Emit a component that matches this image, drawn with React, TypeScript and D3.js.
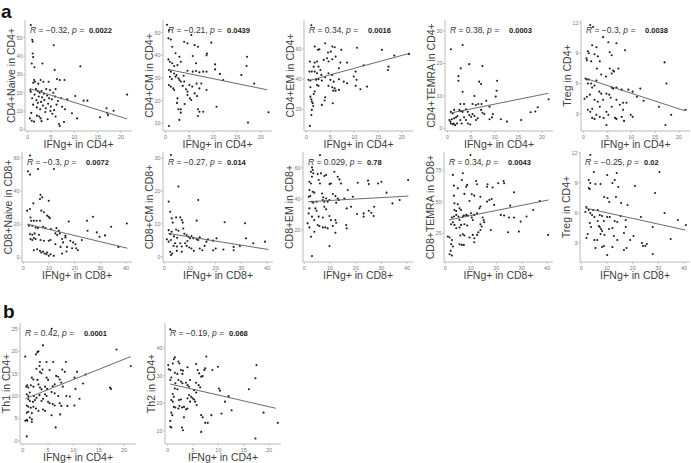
import React from "react";
import * as d3 from "d3";

// ---- data ----
const yLabels = [
  "CD4+Naive in CD4+", "CD4+CM in CD4+", "CD4+EM in CD4+", "CD4+TEMRA in CD4+", "Treg in CD4+",
  "CD8+Naive in CD8+", "CD8+CM in CD8+", "CD8+EM in CD8+", "CD8+TEMRA in CD8+", "Treg in CD4+",
  "Th1 in CD4+", "Th2 in CD4+",
];
const xLabels = ["IFNg+ in CD4+", "IFNg+ in CD8+"];
const rValues = ["\u22120.32", "\u22120.21", "0.34", "0.38", "\u22120.3", "\u22120.3", "\u22120.27", "0.029", "0.34", "\u22120.25", "0.42", "\u22120.19"];
const pValues = ["0.0022", "0.0439", "0.0016", "0.0003", "0.0038", "0.0072", "0.014", "0.78", "0.0043", "0.02", "0.0001", "0.068"];

const cd4Ticks = [0, 5, 10, 15, 20];
const cd8Ticks = [0, 10, 20, 30, 40];
const yTickSets = [
  [0, 10, 20, 30, 40, 50], [10, 20, 30, 40, 50], [20, 40, 60], [0, 10, 20, 30], [3, 6, 9, 12],
  [0, 20, 40, 60], [0, 10, 20, 30], [20, 40, 60], [25, 50, 75], [3, 6, 9, 12],
  [0, 5, 10, 15, 20, 25], [10, 20, 30, 40],
];

// fitted line end points [x0, y0, x1, y1]
const fitLines = [
  [0.5, 22.3, 21.3, 5.7], [0.5, 33.8, 21.3, 24.8], [0.5, 39.1, 21.3, 57], [0.5, 4.7, 21.3, 10.8], [0.5, 6.5, 21.3, 3.3],
  [1.5, 20.1, 40.5, 5.6], [1.5, 7.1, 40.5, 2.2], [1.5, 38.2, 40.5, 41.8], [1.5, 35.5, 40.5, 51.3], [1.5, 6.5, 40.5, 4.3],
  [0.5, 9.4, 21.3, 18.8], [0.5, 27, 21.3, 18.2],
];

const naiveCd4 = [
  [0.7,57],[1.0,49],[1.1,48],[1.1,41.5],[1.2,39.5],[0.9,36],[1.5,34],[3.2,36],[5.6,46],[5.8,32.5],[11.3,34.5],
  [1.4,27],[1.6,26],[1.2,25.5],[2.8,27],[3.4,26],[6.3,27.5],[6.9,27],[7.9,27],[4.5,26],[2.3,25],
  [0.6,21.5],[0.7,20.5],[1.8,22],[2.2,21],[2.6,20],[3.0,21],[4.0,22],[4.8,21.5],[5.5,20],[6.0,22],[1.5,19],[3.5,19.5],
  [1.0,17],[1.9,16],[2.4,18],[3.1,17.5],[3.6,16],[4.2,18.5],[4.6,17],[5.2,16.5],[5.9,18],[6.5,15.5],[7.2,17],[8.5,16.4],
  [10.2,18.2],[12.0,15.7],[12.8,15.7],[21.3,19],[2.9,15],
  [1.2,13.5],[2.0,12],[2.7,11],[3.3,13],[3.9,11.5],[4.4,14],[5.0,12.5],[5.7,10.5],[6.2,13.5],[7.4,12.4],[8.0,11],[4.9,10],
  [16.9,11.5],[18.4,10.2],[2.2,14.5],
  [0.8,9],[2.0,7.5],[2.5,7],[2.8,6],[3.8,9.5],[5.3,8.5],[6.0,7],[9.5,8.8],[10.6,6],[15.5,6.6],[17.0,9.1],[17.2,7.8],[0.5,6],[4.3,5.5],
  [0.9,4.7],[1.4,4.2],[6.7,2.9],[6.9,1.8],[3.0,4.5],[7.8,4.0],
];
const cmCd4 = [
  [0.3,53.5],[0.7,51],[1.1,47],[0.6,47.5],[5.4,49],[6.1,44.5],[4.6,45.3],[3.9,46],[9.6,45.6],[6.8,43.8],[1.4,43.8],
  [2.1,40.9],[2.9,39.4],[8.6,40],[8.7,40.8],[0.6,38.2],[0.9,37.2],[1.4,36.5],[1.8,35.3],[2.5,35.7],[3.2,37.2],[5.7,39.7],
  [10.4,36],[17.1,39.4],[17,35.3],[15.9,31.3],[18.6,27.6],[21.6,14.9],[17.3,10.3],[11.4,31.8],[12.1,29.1],
  [0.7,33.5],[1.1,32.8],[1.8,32],[2.3,31.3],[4.6,33.2],[5.7,32.8],[6.4,33.1],[7.1,32.5],[7.9,32.8],
  [0.7,26.9],[1.1,26.2],[1.8,24.7],[2.9,29.1],[3.2,28.4],[3.6,26.5],[4.3,25],[4.6,24],[5,26.9],[5.6,26.2],
  [6.1,23.2],[6.6,22],[7.1,25.4],[7.5,27.6],[8.6,24.7],[5.1,21],[5.4,20.3],[2.5,21],[2.7,16.2],[3.2,16.2],[3.2,14.7],
  [2.9,11.5],[6.8,16.2],[7.1,15.1],[7.9,15.1],[6.8,13.2],[10.7,17.3],[0.7,8.8],[4.6,22.5],[3.9,28.4],[6.4,36.5],
  [8.6,32.8],[10.4,33.8],[2.1,30.6],[2.7,29.9],[0.9,30.5],[1.3,29.5],[1.6,25.5],[3.8,31],[4.0,18.5],[2.4,19],[6.5,27.5],
];
const emCd4 = [
  [1,76],[1.7,61.8],[2.7,60],[2.4,59.6],[3.9,64],[5.4,61.8],[5.9,61.3],[4.5,57.8],[5.1,58.4],[7.3,59.6],[10.6,61],
  [15.8,59.6],[18.4,55.8],[21.5,56.9],[17.2,48.4],[17.1,46.2],[0.7,51.8],[1.7,51.1],[2.2,51.8],[1.5,48.4],
  [3.6,52.9],[4.3,54],[4.6,51.8],[5.4,53.3],[6.1,55.1],[2.5,48.4],[7.1,51.1],[8.5,51.1],
  [0.6,45.1],[1.1,45.1],[1.7,45.1],[2.2,44],[2.9,46.2],[3.1,42.9],[4.6,44],[5.4,42.9],[6.8,47.3],[10.3,45.1],[12,49.3],
  [0.4,39.6],[0.8,39.1],[2.5,40],[3.2,39.1],[3.9,41.3],[5,39.6],[5.7,38.4],[6.8,40],[7.8,38.4],[8.5,37.3],[9.9,41.8],[10.5,39.6],
  [2.2,36.2],[2.5,35.6],[4.6,35.6],[5.4,34.7],[5.9,34],[6.1,32.4],[6.8,32.9],[5.6,32.4],[11.3,33.3],[12.7,35.1],[10.3,35.6],
  [3.9,28],[3.8,25.8],[3.2,22.9],[5.5,24],[0.8,28.4],[1,26.7],[1.1,25.1],[1.3,24],[1.4,22.2],[1.1,19.6],[1,16.2],[0.7,8.9],
  [1.5,30.2],[1.7,31.8],[0.8,34.7],[2,39.6],
];
const temraCd4 = [
  [0.7,24.4],[3.2,25.7],[4.6,19.8],[7.4,19.2],[2.8,18.5],[2.3,16.1],[2.3,14.7],[6.7,14.4],[7.1,13.7],[10.5,14.7],
  [3.2,11.3],[5.7,10],[10.4,11.6],[10.2,9.8],[21.4,9],[8.2,8.5],[2.7,7.5],[3.5,7.5],[5.3,7.5],[6,7.2],[6.5,7.5],[7.2,7.5],
  [8.9,6.7],[19.1,6.5],[17.6,5],[18.6,5.2],[15.6,2.6],[12.6,2.1],[11.3,2.8],[8.9,2.8],[9.6,4.4],[7.8,4.4],
  [0.4,2.6],[0.6,2.1],[0.7,1.5],[1.1,1.3],[0.9,2.8],[1.4,3.1],[1.8,3.4],[2.1,3.8],[1.3,1.5],[1.6,1],[2,1.5],
  [2.5,5.7],[2.8,5.3],[3.2,5.1],[3.9,5.9],[4.3,5.1],[4.6,4.1],[5,3.6],[5.3,4.4],[5.7,3.8],[6,2.6],[6.4,3.1],
  [3.5,3.4],[3.9,2.6],[2.7,2.6],[3,1.5],[4.3,1.5],[4.8,1.2],[7.1,5.7],[7.4,4.8],[0.7,5.1],[1.1,4.6],[1.4,5.7],[9.4,3.4],
];
const tregCd4 = [
  [1.4,11.8],[2,11.6],[4.1,10.6],[5.2,10.1],[6.9,10],[1.8,9.8],[2.7,9.6],[8.7,9.3],[0.9,9.2],[1.1,9],[2.3,8.9],[3,8.7],
  [5.5,9.1],[5.9,8.8],[0.6,8.5],[0.7,8.3],[1.6,8.2],[3.4,8.2],[2.8,7.5],[5.5,7.5],[6.2,7.3],[7.3,7.5],[17,8.1],[17.4,6],
  [3.7,6.9],[4.7,6.7],[5.9,7],[6.4,7.2],[0.4,6.5],[0.7,6.4],[1.1,6.4],[0.9,6],[1.6,6],[2.7,6.3],[1.8,5.6],[2.3,5.8],
  [5.9,5.6],[6.2,5.5],[6.9,5.6],[8,5.4],[9.4,5.4],[10.3,5.2],[11.9,5.5],[11.2,4.7],[12.6,4.3],[3.3,5.2],[3.7,5],
  [4.8,5],[5.4,4.9],[5.7,4.6],[0.2,4.5],[0.7,4.7],[1.3,4.9],[2.3,4.4],[3,4.2],[4.1,4.4],[6.9,4.4],[8.3,4.1],[9,4.1],
  [15.8,3.7],[21.4,3.4],[18.4,2.9],[0.9,3.4],[1.4,3.2],[1.8,3.5],[3.4,3.7],[4.8,3.2],[5.9,3.7],[7.6,3.9],[8.3,3.4],
  [9.9,2.9],[10.3,2.7],[2.7,2.9],[3.4,2.7],[4.2,2.6],[1.8,2.6],[2.3,2.5],[6.6,2.6],[6.9,2.5],[8,2.7],[8.5,2.3],[4.8,1.9],
  [17.2,1.9],[5.2,2.9],
];
const naiveCd8 = [
  [2.6,61.4],[1.8,51.9],[2.6,49.9],[5.7,53.3],[11.9,53.3],[3.9,32.6],[6.7,37.8],[7.4,36.2],[6.5,35.2],[9.9,34.2],
  [1.5,28.2],[2.6,29.2],[7,28.2],[8,27.2],[9.3,25.2],[9.9,24.5],[10.3,23.7],[2.8,24.1],[3.1,22.1],[4.1,22.1],[5.2,22.1],
  [6.5,22.1],[17.7,21.7],[24.8,22.1],[27.1,24.5],[40.3,20.5],[25,16.1],[28.6,15.1],[31.8,13.3],[34.2,18.5],[37,6.4],
  [29.7,12.5],[22.8,10.5],[2.2,19.1],[3.5,19.1],[4.8,18.1],[5.7,17.7],[7.7,18.5],[8.6,17.7],[10.8,17.1],[12.9,17.7],
  [13.8,16.1],[2.6,14.1],[3.5,13.7],[4.4,14.5],[6.1,13.7],[12.5,14.5],[13.2,13.5],[14.2,14.5],[16.4,13.1],
  [2.8,11.1],[3.5,10.5],[4.1,11.7],[4.8,11.1],[6.7,10.5],[8,10.1],[9.9,10.1],[10.6,10.5],[15.1,11.1],[16.4,12.1],
  [18.3,10.1],[19.4,9.1],[20.3,8],[12.5,8],[14.5,6.4],[15.5,9.1],[17,6.4],[19,5.6],[20.6,5.6],[21.2,4.4],[4.1,4.4],
  [5.4,5],[6.5,4],[7,3],[7.7,3.6],[8.3,2.4],[9,2],[9.3,3],[9.9,1],[10.6,2],[11.9,1],[15.1,2.4],[16.8,3.6],
];
const cmCd8 = [
  [2.6,31],[1.7,16.8],[5.5,21.4],[13.2,17.3],[2.3,13.7],[2.9,11.7],[3.3,10.4],[4.6,12],[6.2,12],[6.8,11.2],[7.2,10.4],
  [12.6,11],[1.7,8.1],[2.3,6.9],[2.9,7.6],[4.6,8.3],[5.5,7.9],[7.4,8.6],[8.7,6.6],[9.4,6.1],[10,5.6],[10.6,6.3],
  [11.3,5.6],[12.6,5.3],[13.2,5.1],[13.8,5.9],[17,5.3],[20.3,5.6],[19,4.9],[1,5.3],[1.7,4.6],[2.6,5.1],[3.6,3.3],
  [4.2,4.1],[4.9,3.1],[6.2,4.1],[6.8,3.1],[8.1,4.1],[8.7,3.3],[9.7,2.8],[10.6,2.5],[11.5,1.8],[2.3,1.5],[3.1,1],
  [6.8,1.5],[4.9,1.8],[13.8,2.5],[14.8,2],[15.7,3.3],[16.4,4.6],[19,2],[20,2.5],[23,2.2],[2.6,0.5],[31.4,10.2],
  [31.8,5.6],[34.6,4.1],[39.2,4.6],[27,2],[27,3],[29.4,3.3],[23.5,10.5],[3.8,6.2],[5,5.8],[7.8,7],[9,4.8],
];
const emCd8 = [
  [6.1,68.1],[3,60.2],[3.3,58.5],[2.6,57.4],[3.5,56.4],[3,54.2],[5.2,55.9],[6.5,56.4],[7.8,54.7],[8.5,55.3],[11.7,57.4],
  [13,54.2],[13.7,52.5],[5.6,52.1],[6.1,49.9],[2,51],[2.6,49.9],[9.8,49.5],[10.4,49.9],[14.3,49.9],[16.9,45.7],
  [20.8,50.4],[24.8,51.7],[25.1,49.5],[28.7,49.9],[30,51],[40.4,52.1],[32,44],[2,45.7],[3.3,44.6],[3.9,44],
  [6.9,43.5],[7.4,41],[8.5,40.3],[11.1,43.1],[12.1,41.8],[13,40.3],[15.6,40.3],[18.9,41.4],[3,38.2],[3.5,37.5],[4.8,38.2],
  [7.2,39.3],[7.8,38.2],[9.1,38.2],[9.8,39.3],[12.4,37.5],[13.4,39.3],[16.5,33.9],[18.2,35],[2,33.9],[1.7,30.7],
  [4.3,33.9],[4.8,32.4],[7.8,35],[8.5,33.3],[20.5,30.3],[23.1,30.7],[25.1,32.4],[26.1,31.1],[23.1,28.6],[27,29],
  [27.2,35],[34.3,37.1],[37.1,39.3],[3,28.6],[3.9,26.4],[5.6,28.6],[7.2,28.1],[9.8,29],[12.1,26.4],[12.4,24.7],
  [5.2,23.2],[5.9,22.6],[7.2,21.7],[8.2,21.7],[9.1,21.1],[16.3,23.2],[16.5,21.1],[10.4,26.4],[11.1,22.6],[1.3,24.3],
  [2,21.7],[3.9,18.9],[2.6,15.7],[12.1,18.3],[9.8,9.7],[3,3.3],[1.7,41.4],[2.3,41.8],
];
const temraCd8 = [
  [9.9,86.8],[3,71.1],[6.9,72.4],[3.4,62.6],[4.9,60.5],[6.5,67.1],[8.6,63.2],[8.2,61.8],[12.1,66.3],[12.5,63.7],
  [16.6,63.7],[16.4,61.8],[18.6,61.1],[20.8,64.5],[22.9,66.3],[23.1,64.5],[27,57.4],[3.4,54.7],[7.5,56.1],[10.4,55.8],
  [11.4,54.7],[13.8,53.9],[9.5,50.5],[3.6,48.7],[4.9,47.9],[5.6,44.7],[6.2,43.4],[3.6,43.4],[4.3,42.6],[13.8,46.1],
  [13.4,44.7],[16.4,50],[17.3,51.3],[18.2,52.1],[19.2,47.4],[25.5,46.8],[21.8,39.5],[23.1,39],[25,37.4],[27,37.4],
  [29.6,34.2],[31.9,38.2],[34.5,43.4],[37.1,50.5],[2.6,37.4],[3.4,38.2],[4.3,39.5],[5.2,38.2],[5.6,35.5],[6.9,38.2],
  [7.3,39],[8.2,39.5],[8.8,39],[10.1,40.8],[11.4,39.5],[12.5,40.8],[10.4,37.4],[10.8,35.5],[14.7,37.4],[15.1,35.5],
  [15.3,33.7],[13.8,32.1],[14.3,30.3],[13.8,27.6],[13,25.8],[12.5,23.7],[2.3,32.1],[3,33.7],[3.6,31.6],[4.3,29],
  [5.6,29.5],[6.2,31.6],[7.5,32.1],[8.6,31.1],[6.9,24.2],[7.5,23.2],[9.5,21.6],[10.8,23.7],[11.4,21.1],[17.9,27.6],
  [24.7,25.8],[28.9,26.3],[40.4,23.7],[1,22.4],[1.7,21.6],[2.6,19.7],[2.3,16.3],[5.6,16.3],[6.5,15.8],[7.3,15.8],
  [5.9,23.2],[11.4,17.9],[1.7,8.4],[2.6,7.4],[2.1,11.1],[3,14.5],
];
const tregCd8 = [
  [3.5,11.8],[4.9,10.1],[10.1,9.8],[13.8,10],[30.4,10.1],[2.9,9.3],[3.5,9],[5.5,8.9],[7.5,8.9],[12.1,9],[13,9.3],
  [14.4,8.6],[2.9,8.5],[3.3,8.4],[20.9,8.7],[28.7,8],[8.9,7.6],[10.2,7.5],[13.5,7.6],[15.5,7],[18,6.8],[10.9,7.1],
  [2,6.6],[2.9,6.3],[1.6,6.1],[4.6,6.3],[6.4,6.3],[7.2,5.8],[8.1,5.7],[10.1,5.6],[11.1,5.6],[8.8,5.2],[13,5.2],
  [14,5.1],[15.3,5.7],[17.3,5.3],[23.2,5.6],[32.4,6],[37.6,5.3],[40.7,4.8],[3.5,6],[4.2,5.8],[5.1,5.6],[3.3,5],
  [3.8,4.6],[6.4,5.2],[6.8,4.7],[7.2,4.6],[7.7,4.4],[8.1,4.2],[10.8,4.4],[12.1,4.5],[16.6,4],[17.3,4.6],[2,3.5],
  [2.5,3.9],[5.1,3.3],[6.2,3.3],[7.5,3.9],[9,3.8],[12.7,3.7],[14,3.3],[20.3,3.7],[19,3.3],[23.6,3],[24.9,2.7],
  [25.5,2.9],[27.8,4.6],[34.8,3.4],[5.5,2.5],[8.1,2.6],[8.8,2.7],[12.1,2.6],[16.6,2.3],[17.6,2.5],[10.1,1.8],
  [27.8,1.9],[24,2.7],
];
const th1Cd4 = [
  [5.7,25],[4,21.3],[2.6,19.3],[2.9,19.8],[3.1,20],[18.5,20.4],[0.5,18.8],[3.4,17.6],[3.3,16.7],[4.7,17.6],[6,17.6],
  [8.5,17.6],[21.3,16.7],[2.7,16.1],[3.9,15.9],[5.3,15.8],[7.8,15.9],[8.3,15.4],[10.2,14.1],[10.7,15.4],[12.4,14.8],
  [3.4,15.4],[3.7,15.1],[1.8,14.1],[2.1,13.7],[2.9,13.6],[4.7,14.1],[5,13.6],[6.6,14.5],[7,14.3],[7.3,13.7],
  [0.9,12.4],[0.7,12.1],[1.1,11.9],[1.6,12.4],[2.1,12.1],[3.1,12.6],[3.4,11.9],[3.7,11.5],[4.4,12.1],[4.8,11.6],
  [5.9,12.2],[6.3,12.6],[7.6,13],[7.9,12.1],[11.9,12.8],[17.2,11.9],[17.4,11.6],[10.4,11.6],[0.8,10.4],[1.1,10],
  [1.4,10.8],[2.2,10],[2.7,9.6],[3.3,10.2],[4.4,10.4],[4.7,10],[5.7,10.9],[6.3,10.6],[7,10],[8.6,10],[9.3,9.9],
  [11.2,9.4],[1.1,9.3],[1.4,8.9],[2,8.7],[2.4,9.1],[3.7,8.9],[4,9.4],[5,8.7],[5.3,8.4],[5.9,8.2],[6.3,7.9],[7.3,8.4],
  [7.6,7.8],[8.8,7.8],[10.2,7.9],[0.8,7.9],[1.1,7.6],[1.6,7.4],[2.1,7.6],[2.6,7.2],[3.1,6.7],[4,7],[4.4,6.7],
  [0.8,6.3],[1.1,6.5],[1.8,6.2],[5.7,5.7],[7.4,5.9],[1.4,5.2],[1.8,4.8],[0.8,4.7],[0.5,4.5],[0.9,4.5],[1.8,4.2],
  [6.5,3],[0.8,1],
];
const th2Cd4 = [
  [0.5,46.9],[0.1,33.9],[0.2,32.4],[0.5,32.1],[1.2,36],[1.4,36.7],[1,34.5],[2.1,35.2],[2.3,34.5],[2.6,32.1],[3,31.9],
  [2.9,30.7],[3.9,33.1],[1.4,31.1],[1.9,30.7],[0.7,29.4],[0.5,28.5],[2.1,28.5],[2.6,27.9],[2.9,27.3],[3.6,27.5],
  [3.9,26.6],[4.2,26],[5.6,34.3],[5.9,32.1],[6.2,30.9],[6.6,29.7],[6.9,29.9],[7.2,32.1],[7.4,32.7],[7.6,37],[8.8,32.1],
  [9.9,33.3],[1.4,25.4],[1.9,25.1],[1,23.4],[1.2,22.4],[0.7,21.2],[1,20.6],[2.2,21.2],[2.6,21.4],[5.6,27.5],[6.1,26.6],
  [6.4,25.8],[5.2,24.8],[5.6,23.9],[4.2,23],[4.6,22.4],[4.9,21.8],[3.9,21.8],[4.4,20.6],[5.2,21.4],[5.4,20.6],
  [5.7,19.4],[1.2,18.7],[1.5,18.5],[2.1,18.1],[2.3,19],[2.8,18.5],[3.2,18.7],[3.6,17.8],[3.9,18.1],[0.7,16.6],
  [0.9,15.7],[3.2,14.9],[0.5,13.6],[0.5,11.5],[0.7,11.2],[2.8,11.2],[3,10.2],[6.6,15.7],[6.9,14.9],[7.4,12.9],
  [7.9,12.9],[6.6,9.6],[10.1,25.4],[10.3,24.6],[11.3,20.6],[12,22.6],[10.6,16.3],[12.6,17.5],[16,25.1],[17.3,29.1],
  [17.5,33.9],[17.3,7.2],[18.9,16.6],[21.7,12.9],[8.6,15.7],[1.5,27.3],[4.4,28.5],
];

const pointSets = [naiveCd4, cmCd4, emCd4, temraCd4, tregCd4, naiveCd8, cmCd8, emCd8, temraCd8, tregCd8, th1Cd4, th2Cd4];

// ---- layout ----
const rows = [
  { top: 20, bottom: 131 },
  { top: 152, bottom: 262 },
  { top: 323, bottom: 444 },
];
const cd4Dom = [-0.54, 22.34];
const cd8Dom = [-0.5, 42.3];
const panels = [
  { row: 0, l: 25, r: 132, yDom: [-0.9, 59.8] },
  { row: 0, l: 163, r: 272, yDom: [6.6, 55.6] },
  { row: 0, l: 304, r: 413, yDom: [5.5, 79.5] },
  { row: 0, l: 445, r: 553, yDom: [-0.8, 33.4] },
  { row: 0, l: 581, r: 690, yDom: [1.3, 12.3] },
  { row: 1, l: 22, r: 132, yDom: [-2.7, 63.5] },
  { row: 1, l: 163, r: 273, yDom: [-1.6, 31.9] },
  { row: 1, l: 303, r: 413, yDom: [-0.5, 70.1] },
  { row: 1, l: 444, r: 553, yDom: [2.3, 89.2] },
  { row: 1, l: 580, r: 690, yDom: [1.1, 12.1] },
  { row: 2, l: 20, r: 136, yDom: [-0.7, 26.3] },
  { row: 2, l: 165, r: 281, yDom: [5.2, 49.2] },
];

const FONT = "'Liberation Sans', Arial, sans-serif";
const axisCol = "#a8a8a8";

function Panel({ i }: { i: number }) {
  const cfg = panels[i];
  const { top, bottom } = rows[cfg.row];
  const isCd8 = cfg.row === 1;
  const x = d3.scaleLinear().domain(isCd8 ? cd8Dom : cd4Dom).range([cfg.l, cfg.r]);
  const y = d3.scaleLinear().domain(cfg.yDom).range([bottom, top]);
  const xt = isCd8 ? cd8Ticks : cd4Ticks;
  const [fx0, fy0, fx1, fy1] = fitLines[i];
  const line = d3.line<number[]>().x((d) => x(d[0])).y((d) => y(d[1]));
  const midY = (top + bottom) / 2;
  return (
    <g>
      <line x1={cfg.l} x2={cfg.l} y1={top} y2={bottom} stroke={axisCol} strokeWidth={0.8} />
      <line x1={cfg.l} x2={cfg.r} y1={bottom} y2={bottom} stroke={axisCol} strokeWidth={0.8} />
      {yTickSets[i].map((t) => (
        <g key={"y" + t}>
          <line x1={cfg.l - 2} x2={cfg.l} y1={y(t)} y2={y(t)} stroke={axisCol} strokeWidth={0.6} />
          <text x={cfg.l - 2.5} y={y(t)} dy="0.35em" textAnchor="end" fontSize={5.5} fill="#7a7a7a" fontFamily={FONT}>{t}</text>
        </g>
      ))}
      {xt.map((t) => (
        <g key={"x" + t}>
          <line x1={x(t)} x2={x(t)} y1={bottom} y2={bottom + 2} stroke={axisCol} strokeWidth={0.6} />
          <text x={x(t)} y={bottom + 7.5} textAnchor="middle" fontSize={5.5} fill="#7a7a7a" fontFamily={FONT}>{t}</text>
        </g>
      ))}
      <text x={(cfg.l + cfg.r) / 2} y={bottom + 17} textAnchor="middle" fontSize={10.5} fill="#404040" fontFamily={FONT}>
        {xLabels[isCd8 ? 1 : 0]}
      </text>
      <text transform={`translate(${cfg.l - 10},${midY}) rotate(-90)`} textAnchor="middle" fontSize={10.5} fill="#404040" fontFamily={FONT}>
        {yLabels[i]}
      </text>
      {pointSets[i].map((d, k) => (
        <circle key={k} cx={x(d[0])} cy={y(d[1])} r={1.05} fill="#1e1e1e" />
      ))}
      <path d={line([[fx0, fy0], [fx1, fy1]]) || ""} stroke="#5a5a5a" strokeWidth={0.9} fill="none" />
      <text x={cfg.l + 5} y={top + 13} fontSize={8.5} fill="#333" fontFamily={FONT}>
        <tspan fontStyle="italic">R</tspan>
        {" = " + rValues[i] + ", "}
        <tspan fontStyle="italic">p</tspan>
        {" ="}
      </text>
      <text x={cfg.l + 64} y={top + 13} fontSize={7.5} fontWeight="bold" fill="#222" fontFamily={FONT}>{pValues[i]}</text>
    </g>
  );
}

export default function App() {
  return (
    <svg width={691} height={463} style={{ position: "absolute", left: 0, top: 0, background: "#fff" }}>
      <text x={1} y={18} fontSize={19} fontWeight="bold" fill="#111" fontFamily={FONT}>a</text>
      <text x={3} y={318} fontSize={19} fontWeight="bold" fill="#111" fontFamily={FONT}>b</text>
      {panels.map((_, i) => (
        <Panel key={i} i={i} />
      ))}
    </svg>
  );
}
